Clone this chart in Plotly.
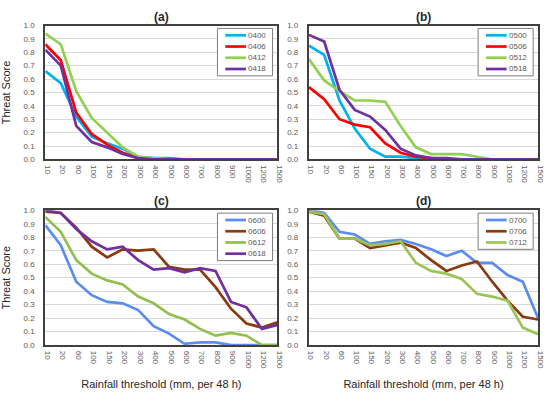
import plotly.graph_objects as go

categories = ["10", "20", "60", "100", "150", "200", "300", "400", "500", "600",
              "700", "800", "900", "1000", "1200", "1500"]
y_ticks = [0.0, 0.1, 0.2, 0.3, 0.4, 0.5, 0.6, 0.7, 0.8, 0.9, 1.0]

# Panel (a)
a_names = ["0400", "0406", "0412", "0418"]
a_0400 = [0.66, 0.57, 0.32, 0.17, 0.12, 0.08, 0.02, 0.01, 0.01, 0.0, 0, 0, 0, 0, 0, 0]
a_0406 = [0.86, 0.74, 0.35, 0.19, 0.11, 0.05, 0.01, 0.0, 0.0, 0, 0, 0, 0, 0, 0, 0]
a_0412 = [0.94, 0.86, 0.51, 0.31, 0.20, 0.09, 0.02, 0.01, 0.0, 0, 0, 0, 0, 0, 0, 0]
a_0418 = [0.82, 0.70, 0.25, 0.13, 0.09, 0.04, 0.01, 0.0, 0.0, 0, 0, 0, 0, 0, 0, 0]

# Panel (b)
b_names = ["0500", "0506", "0512", "0518"]
b_0500 = [0.85, 0.78, 0.44, 0.23, 0.08, 0.02, 0.02, 0.01, 0.0, 0, 0, 0, 0, 0, 0, 0]
b_0506 = [0.54, 0.45, 0.30, 0.26, 0.24, 0.12, 0.05, 0.02, 0.01, 0, 0, 0, 0, 0, 0, 0]
b_0512 = [0.75, 0.59, 0.51, 0.44, 0.44, 0.43, 0.25, 0.09, 0.04, 0.04, 0.04, 0.02, 0.0, 0, 0, 0]
b_0518 = [0.93, 0.88, 0.52, 0.37, 0.32, 0.22, 0.08, 0.03, 0.01, 0.01, 0.0, 0, 0, 0, 0, 0]

# Panel (c)
c_names = ["0600", "0606", "0612", "0618"]
c_0600 = [0.89, 0.74, 0.47, 0.37, 0.32, 0.31, 0.26, 0.14, 0.085, 0.01, 0.02, 0.02, 0.0, 0.0, 0.0, 0.0]
c_0606 = [0.99, 0.98, 0.87, 0.73, 0.65, 0.71, 0.70, 0.71, 0.58, 0.56, 0.56, 0.43, 0.27, 0.16, 0.13, 0.17]
c_0612 = [0.95, 0.84, 0.63, 0.53, 0.48, 0.45, 0.36, 0.31, 0.23, 0.19, 0.12, 0.07, 0.09, 0.07, 0.0, 0.0]
c_0618 = [1.00, 0.98, 0.86, 0.77, 0.71, 0.73, 0.63, 0.56, 0.57, 0.54, 0.57, 0.55, 0.32, 0.28, 0.12, 0.15]

# Panel (d)
d_names = ["0700", "0706", "0712"]
d_0700 = [1.00, 0.98, 0.84, 0.82, 0.75, 0.77, 0.78, 0.75, 0.71, 0.66, 0.70, 0.61, 0.61, 0.52, 0.47, 0.20]
d_0706 = [0.99, 0.96, 0.79, 0.79, 0.72, 0.74, 0.76, 0.72, 0.63, 0.55, 0.59, 0.62, 0.47, 0.33, 0.21, 0.19]
d_0712 = [0.99, 0.97, 0.79, 0.79, 0.74, 0.75, 0.77, 0.61, 0.55, 0.53, 0.49, 0.38, 0.36, 0.33, 0.13, 0.08]

panel_titles = ["(a)", "(b)", "(c)", "(d)"]
x_title = "Rainfall threshold (mm, per 48 h)"
y_title = "Threat Score"

colors_ab = ["#00B0F0", "#FF0000", "#92D050", "#7030A0"]
colors_c = ["#5B8DEE", "#8B3A10", "#92C050", "#7030A0"]
colors_d = ["#5B8DEE", "#8B3A10", "#9BC455"]

W, H = 550, 398
def px_x(v):
    return v / W
def px_y(v):
    return 1 - v / H

# frame boxes in pixels (left, right, top, bottom)
boxes = [(43, 279, 22, 159), (311, 544, 22, 159), (43, 279, 211, 349), (311, 544, 211, 349)]

panels = [
    (a_names, [a_0400, a_0406, a_0412, a_0418], colors_ab),
    (b_names, [b_0500, b_0506, b_0512, b_0518], colors_ab),
    (c_names, [c_0600, c_0606, c_0612, c_0618], colors_c),
    (d_names, [d_0700, d_0706, d_0712], colors_d),
]

fig = go.Figure()
layout = dict(
    width=W, height=H, margin=dict(l=0, r=0, t=0, b=0),
    paper_bgcolor="white", plot_bgcolor="white",
    font=dict(family="Liberation Sans, Arial", color="#404040"),
    showlegend=False,
)
annotations = []
shapes = []
grey = "#595959"
for i, (names, series, cols) in enumerate(panels):
    k = "" if i == 0 else str(i + 1)
    xa, ya = "x" + k, "y" + k
    for nm, vals, col in zip(names, series, cols):
        fig.add_trace(go.Scatter(
            x=categories, y=vals, name=nm, mode="lines",
            line=dict(color=col, width=2.7),
            xaxis=xa, yaxis=ya,
        ))
    l, r, t, b = boxes[i]
    layout["xaxis" + k] = dict(
        domain=[px_x(l), px_x(r)], anchor=ya, type="category",
        categoryorder="array", categoryarray=categories,
        tickangle=90, tickfont=dict(size=8, color=grey), ticklabelshift=2,
        showline=True, linecolor="#404040", linewidth=2, mirror=True,
        showgrid=False, ticks="", ticklen=0, ticklabelstandoff=2,
        title=dict(text=x_title if i >= 2 else "", font=dict(size=11, color="#262626"), standoff=12),
    )
    layout["yaxis" + k] = dict(
        domain=[px_y(b), px_y(t)], anchor=xa, range=[0, 1.0],
        tickvals=y_ticks, ticktext=[f"{v:.1f}" for v in y_ticks],
        tickfont=dict(size=8, color=grey),
        showline=True, linecolor="#404040", linewidth=2, mirror=True,
        showgrid=True, gridcolor="#D9D9D9", gridwidth=1, zeroline=False,
        ticks="", ticklabelstandoff=7,
        title=dict(text=y_title if i in (0, 2) else "", font=dict(size=11, color="#262626"), standoff=12),
    )
    # legend drawn as a boxed key
    n = len(names)
    bx1, bx0 = r - 5, r - 61
    by0 = t + 3
    row_gap = 11.5
    by1 = by0 + 7 + row_gap * (n - 1) + 7
    shapes.append(dict(type="rect", xref="paper", yref="paper",
                       x0=px_x(bx0), x1=px_x(bx1), y0=px_y(by1), y1=px_y(by0),
                       line=dict(color="#7F7F7F", width=1), fillcolor="white", layer="above"))
    for j, (nm, col) in enumerate(zip(names, cols)):
        yy = by0 + 7 + row_gap * j
        shapes.append(dict(type="line", xref="paper", yref="paper",
                           x0=px_x(bx0 + 8), x1=px_x(bx0 + 29), y0=px_y(yy), y1=px_y(yy),
                           line=dict(color=col, width=2.7), layer="above"))
        annotations.append(dict(text=nm, xref="paper", yref="paper",
                                x=px_x(bx0 + 29), y=px_y(yy), xanchor="left", yanchor="middle",
                                showarrow=False, font=dict(size=8, color=grey)))
    annotations.append(dict(
        text="<b>" + panel_titles[i] + "</b>", xref="paper", yref="paper",
        x=px_x((l + r) / 2), y=px_y(t - 9), xanchor="center", yanchor="middle",
        showarrow=False, font=dict(size=12, color="#262626"),
    ))
layout["annotations"] = annotations
layout["shapes"] = shapes
fig.update_layout(**layout)
fig.write_html("out.html", config={"displayModeBar": False},
               post_script="document.body.style.margin='0px';")
